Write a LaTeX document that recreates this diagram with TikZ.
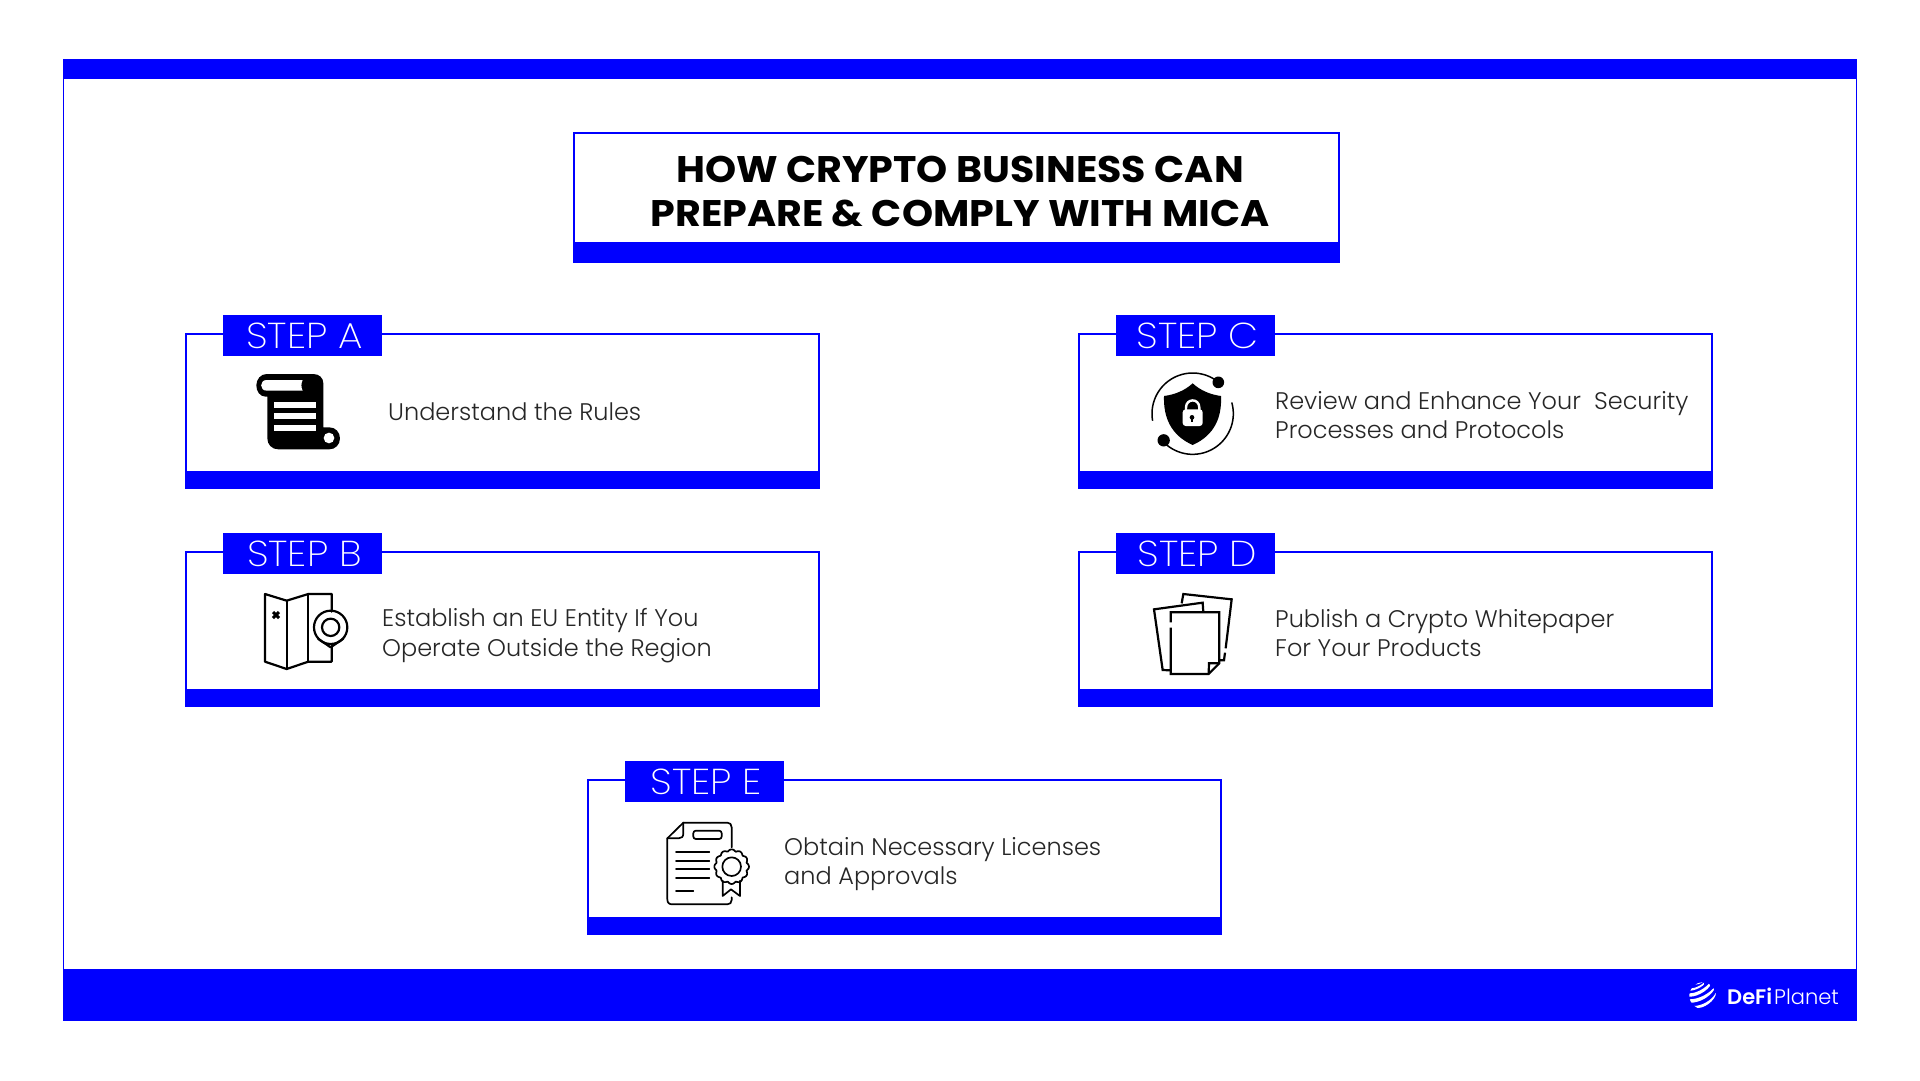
\documentclass[tikz,border=0pt]{standalone}
\usepackage{fontspec}
\setmainfont{Poppins}
\newfontfamily\ftitle[FakeStretch=1.07]{Poppins Bold}
\newfontfamily\fbody[FakeStretch=1.0]{Poppins Light}
\newfontfamily\fstep[FakeStretch=1.08]{Poppins ExtraLight}
\newfontfamily\flogob{Poppins SemiBold}
\newfontfamily\flogol{Poppins Light}
\definecolor{brand}{HTML}{0000FF}
\tikzset{
  framebox/.style={draw=brand,line width=2pt,fill=white},
  barfill/.style={fill=brand,draw=none},
  tabbox/.style={fill=brand,draw=none,minimum width=159pt,minimum height=41pt,inner sep=0pt,text=white,font=\fstep\fontsize{36}{36}\selectfont},
  bodytext/.style={anchor=west,align=left,inner sep=0pt,text=black!85,font=\fbody\fontsize{24}{29.4}\selectfont},
  icon/.style={line width=2.2pt,draw=black,line cap=round,line join=round},
}
% #1 name, #2 shift x, #3 shift y, #4 label
\newcommand{\stepcard}[4]{%
  \begin{scope}[shift={(#2,#3)}]
    \path[framebox] (186,333.7) rectangle (818.5,488);
    \path[barfill] (185,470.5) rectangle (819.5,489);
    \node[tabbox] (#1) at (302.5,335.5) {\hspace*{4pt}#4};
  \end{scope}}
\begin{document}
\begin{tikzpicture}[x=1pt,y=-1pt]
\useasboundingbox (0,0) rectangle (1920,1080);
\fill[white] (0,0) rectangle (1920,1080);
% outer frame
\draw[brand,line width=1pt] (63.5,59.5) rectangle (1856.5,1020.5);
\fill[brand] (63,59) rectangle (1857,79);
\fill[brand] (63,968.5) rectangle (1857,1021);
% title
\path[framebox] (573.5,132.5) rectangle (1339,262);
\path[barfill] (572.5,242) rectangle (1340,263);
\node[align=center,inner sep=0pt,font=\ftitle\fontsize{37}{44}\selectfont] (title) at (960,192) {HOW CRYPTO BUSINESS CAN\\PREPARE \& COMPLY WITH MICA};
% cards
\stepcard{stepa}{0}{0}{STEP A}
\stepcard{stepb}{0}{218}{STEP B}
\stepcard{stepc}{893}{0}{STEP C}
\stepcard{stepd}{893}{218}{STEP D}
\stepcard{stepe}{402}{446}{STEP E}
% texts
\node[bodytext] (ta) at (388,412) {Understand the Rules};
\node[bodytext] (tb) at (382,635.8) {Establish an EU Entity If You\\Operate Outside the Region};
\node[bodytext] (tc) at (1275,415) {Review and Enhance Your\ \ Security\\Processes and Protocols};
\node[bodytext] (td) at (1275,633) {Publish a Crypto Whitepaper\\For Your Products};
\node[bodytext] (te) at (784,864.2) {Obtain Necessary Licenses\\and Approvals};
% scroll icon
\begin{scope}[shift={(230,350)},x=0.3333pt,y=-0.3333pt]
  \fill[black] (110,72) -- (250,72) .. controls (268,72) and (280,84) .. (280,100) -- (280,232) -- (298,232) .. controls (316,232) and (330,246) .. (330,265) .. controls (330,284) and (316,298) .. (298,298) -- (145,298) .. controls (126,298) and (112,284) .. (112,265) -- (112,140) -- (107,140) .. controls (90,140) and (79,124) .. (79,106) .. controls (79,88) and (92,72) .. (110,72) -- cycle;
  \fill[white] (110,90) -- (218,90) .. controls (213,100) and (213,112) .. (218,122) -- (110,122) .. controls (88,122) and (88,90) .. (110,90) -- cycle;
  \fill[white] (133,155) rectangle (258,173);
  \fill[white] (133,190) rectangle (258,208);
  \fill[white] (133,226) rectangle (258,244);
  \fill[white] (297,264) circle (16);
\end{scope}
% map icon
\begin{scope}[shift={(240,580)},x=0.3333pt,y=-0.3333pt]
  \draw[icon] (275,95) -- (275,42) -- (205,42) -- (140,62) -- (75,42) -- (75,245) -- (140,267) -- (205,245) -- (275,245) -- (275,198);
  \draw[icon] (140,62) -- (140,267);
  \draw[icon] (205,42) -- (205,245);
  \draw[icon] (272,142) circle (50);
  \draw[icon] (272,142) circle (26);
  \draw[icon] (234,176) -- (272,202) -- (310,176);
  \draw[line width=3pt,line cap=butt] (99,96) -- (117,114) (117,96) -- (99,114);
\end{scope}
% shield icon
\begin{scope}[shift={(1130,360)},x=0.3333pt,y=-0.3333pt]
  \fill[black] (188,70) .. controls (212,92) and (242,104) .. (273,108) .. controls (276,170) and (255,225) .. (188,255) .. controls (121,225) and (100,170) .. (102,108) .. controls (134,104) and (164,92) .. (188,70) -- cycle;
  \draw[white,line width=2.4pt] (168,152) -- (168,143) .. controls (168,114) and (208,114) .. (208,143) -- (208,152);
  \fill[white,rounded corners=3pt] (158,148) rectangle (218,198);
  \fill[black] (186,172) circle (7);
  \fill[black] (183,172) rectangle (189,187);
  \draw[line width=1.5pt] plot[smooth,samples=40,domain=170:304,variable=\t] ({188+122*cos(\t)},{161+122*sin(\t)});
  \draw[line width=1.5pt] plot[smooth,samples=40,domain=-16:131,variable=\t] ({188+122*cos(\t)},{161+122*sin(\t)});
  \fill[black] (265,67) circle (17.5);
  \fill[black] (101,241) circle (18.5);
\end{scope}
% documents icon
\begin{scope}[shift={(1130,580)},x=0.3333pt,y=-0.3333pt]
  \draw[icon,line cap=butt,line join=miter] (122,127) -- (122,97) -- (268,97) -- (268,250) -- (236,282) -- (122,282) -- (122,143);
  \draw[icon,line cap=butt,line join=miter] (268,250) -- (237,250) -- (236,282);
  \draw[icon,line cap=butt,line join=miter] (120,271) -- (98,270) -- (72,88) -- (218,68) -- (220,97);
  \draw[icon,line cap=butt,line join=miter] (155,70) -- (160,42) -- (305,58) -- (287,205);
  \draw[icon,line cap=butt,line join=miter] (285,218) -- (282,241) -- (268,241);
\end{scope}
% certificate icon
\begin{scope}[shift={(650,810)},x=0.3333pt,y=-0.3333pt]
  \begin{scope}[line width=1.7pt,line cap=round,line join=round]
  \draw (245,112) -- (245,52) .. controls (245,43) and (240,38) .. (232,38) -- (100,38) -- (52,85) -- (52,268) .. controls (52,278) and (57,283) .. (67,283) -- (232,283) .. controls (240,283) and (245,278) .. (245,270) -- (245,262);
  \draw (100,38) -- (100,70) .. controls (100,80) and (95,85) .. (86,85) -- (52,85);
  \draw[rounded corners=2.5pt] (160,87) -- (130,87) -- (130,62) -- (215,62) -- (215,87) -- (140,87);
  \draw (78,127) -- (178,127) (78,152) -- (178,152) (78,178) -- (178,178) (78,204) -- (178,204) (78,242) -- (130,242);
  \draw[fill=white] plot[smooth cycle,samples=97,domain=0:356.25,variable=\t] ({245+(46+6*abs(cos(6*\t)))*cos(\t)},{170+(46+6*abs(cos(6*\t)))*sin(\t)});
  \draw (245,170) circle (28);
  \draw (218,212) -- (218,258) -- (243,238) -- (270,258) -- (270,212);
  \end{scope}
\end{scope}
% logo
\begin{scope}[shift={(1660,960)},x=0.3333pt,y=-0.3333pt]
  \begin{scope}
    \clip (128,107) circle (40);
    \fill[white] (88,118) .. controls (118,118) and (150,100) .. (168,76) .. controls (160,106) and (120,130) .. (88,128) -- cycle;
    \fill[white] (88,100) .. controls (110,100) and (135,85) .. (150,68) .. controls (160,80) and (115,112) .. (88,110) -- cycle;
    \fill[white] (92,85) .. controls (105,85) and (120,78) .. (132,68) .. controls (140,72) and (110,92) .. (90,92) -- cycle;
    \fill[white] (100,138) .. controls (125,138) and (155,122) .. (168,98) .. controls (168,120) and (130,150) .. (105,143) -- cycle;
    \fill[white] (105,74) .. controls (112,74) and (120,71) .. (128,67) -- (110,68) -- cycle;
  \end{scope}
\end{scope}
\node[anchor=west,inner sep=0pt,text=white,font=\fontsize{21}{21}\selectfont] (logo) at (1727,996) {{\flogob DeFi}\hspace{2pt}{\flogol Planet}};
\end{tikzpicture}
\end{document}
